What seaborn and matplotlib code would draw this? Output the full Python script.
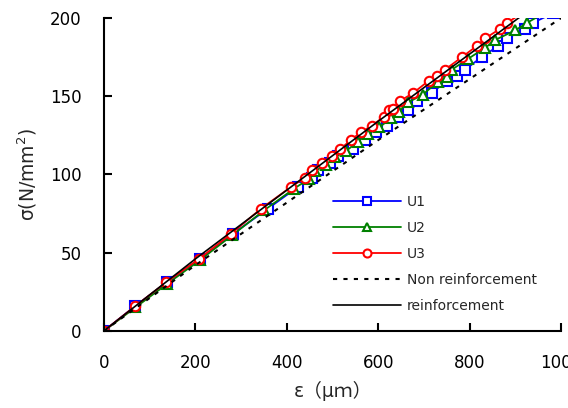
import numpy as np
import pandas as pd
import matplotlib
matplotlib.use("Agg")
import matplotlib.pyplot as plt
import seaborn as sns

# strain (x) and stress (y)
u1_x = [0, 69, 137, 210, 282, 358, 424, 456, 468, 494, 512, 545, 570, 594, 618, 643,
        664, 685, 717, 750, 772, 790, 826, 862, 882, 921, 939, 982]
u1_y = [0, 16, 31, 46, 62, 78, 92, 98, 103, 107, 112, 116, 122, 127, 131, 137,
        141, 147, 152, 160, 163, 167, 175, 182, 187, 193, 197, 203]

u2_x = [0, 69, 138, 209, 280, 350, 416, 448, 461, 485, 505, 530, 555, 578, 602, 628,
        645, 665, 697, 730, 750, 761, 797, 834, 856, 899, 926, 968]
u2_y = [0, 15, 30, 45, 61, 77, 91, 97, 102, 106, 111, 115, 121, 126, 130, 136,
        140, 146, 151, 159, 162, 167, 174, 181, 186, 192, 197, 204]

u3_x = [0, 69, 136, 208, 278, 343, 409, 440, 454, 476, 498, 516, 540, 562, 586, 612,
        624, 632, 648, 676, 711, 729, 746, 783, 815, 834, 866, 882, 925]
u3_y = [0, 16, 31, 46, 62, 78, 92, 98, 103, 107, 112, 116, 122, 127, 131, 137,
        141, 142, 147, 152, 160, 163, 167, 175, 182, 187, 193, 197, 205]

non_x = [0, 200, 400, 600, 800, 1000]
non_y = [0, 42, 82, 122, 161, 200]

rein_x = [0, 200, 400, 600, 800, 1000]
rein_y = [0, 46, 90, 134, 177, 220]

sns.set_style("ticks")
plt.rcParams['font.family'] = ['DejaVu Sans', 'Noto Sans CJK JP']

fig = plt.figure(figsize=(5.68, 4.08), dpi=100)
ax = fig.add_axes([0.183, 0.189, 0.805, 0.767])

mk = dict(markerfacecolor='white', markersize=6.8, markeredgewidth=1.5, linewidth=1.3, sort=False)
sns.lineplot(x=u1_x, y=u1_y, color='#0000ff', marker='s', markeredgecolor='#0000ff', label='U1', ax=ax, **mk)
sns.lineplot(x=u2_x, y=u2_y, color='#008000', marker='^', markeredgecolor='#008000', label='U2', ax=ax, **mk)
sns.lineplot(x=u3_x, y=u3_y, color='#ff0000', marker='o', markeredgecolor='#ff0000', label='U3', ax=ax, **mk)
sns.lineplot(x=non_x, y=non_y, color='black', linestyle=(0, (2, 3)), linewidth=1.5,
             label='Non reinforcement', ax=ax, sort=False)
sns.lineplot(x=rein_x, y=rein_y, color='black', linewidth=1.2, label='reinforcement', ax=ax, sort=False)

ax.set_xlim(0, 1000)
ax.set_ylim(0, 200)
ax.set_xticks([0, 200, 400, 600, 800, 1000])
ax.set_yticks([0, 50, 100, 150, 200])
ax.tick_params(direction='in', length=6, width=1.5, labelsize=12, colors='black')
ax.tick_params(axis='x', pad=17)
ax.tick_params(axis='y', pad=16)
for s in ['left', 'bottom']:
    ax.spines[s].set_linewidth(1.5)
    ax.spines[s].set_color('black')
sns.despine(ax=ax)

ax.set_xlabel('ε（μｍ）', fontsize=13.5, labelpad=6)
ax.set_ylabel('σ(N/mm$^2$)', fontsize=13.5, labelpad=8)

ax.legend(loc='upper left', bbox_to_anchor=(0.501, 0.435), frameon=False, fontsize=10,
          handlelength=4.9, labelspacing=0.87, handletextpad=0.4, borderaxespad=0,
          borderpad=0, markerscale=0.85)

fig.savefig('out.png', dpi=100)
